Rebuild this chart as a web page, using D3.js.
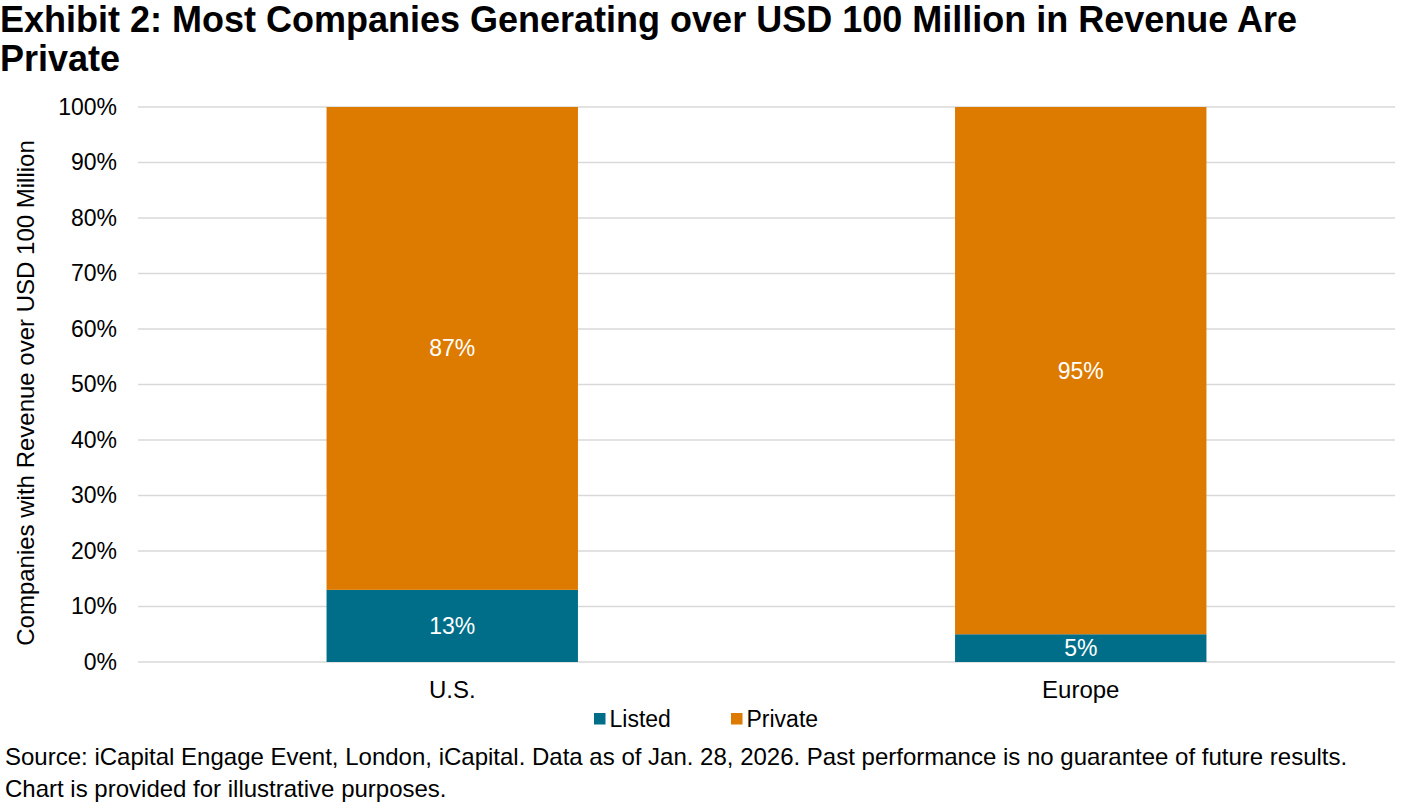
<!DOCTYPE html>
<html>
<head>
<meta charset="utf-8">
<script src="https://cdn.jsdelivr.net/npm/d3@7"></script>
<style>
  body { margin: 0; background: #fff; }
  text { font-family: "Liberation Sans", Arial, sans-serif; }
</style>
</head>
<body>
<div id="chart"></div>
<script>
// Chart data
var regions = ["U.S.", "Europe"];
var listed = [13, 5];
var privateShare = [87, 95];
var seriesNames = ["Listed", "Private"];
var seriesColors = ["#006e89", "#dd7a00"];
var yTicks = [0, 10, 20, 30, 40, 50, 60, 70, 80, 90, 100];

var W = 1402, H = 810;
var margin = { top: 107, right: 7, bottom: 148, left: 138 };
var width = W - margin.left - margin.right;
var height = H - margin.top - margin.bottom;

var svg = d3.select("#chart").append("svg")
    .attr("width", W)
    .attr("height", H);

// Title
svg.append("text").attr("x", 0).attr("y", 32)
    .attr("font-size", 36).attr("font-weight", "bold").attr("fill", "#000")
    .text("Exhibit 2: Most Companies Generating over USD 100 Million in Revenue Are");
svg.append("text").attr("x", 0).attr("y", 71)
    .attr("font-size", 36).attr("font-weight", "bold").attr("fill", "#000")
    .text("Private");

var g = svg.append("g")
    .attr("transform", "translate(" + margin.left + "," + margin.top + ")");

var x = d3.scaleBand().domain(regions).range([0, width]).paddingInner(0.6).paddingOuter(0.3);
var y = d3.scaleLinear().domain([0, 100]).range([height, 0]);

// Grid lines
g.selectAll(".grid").data(yTicks).enter().append("line")
    .attr("x1", 0).attr("x2", width)
    .attr("y1", function (d) { return y(d); })
    .attr("y2", function (d) { return y(d); })
    .attr("stroke", "#d9d9d9").attr("stroke-width", 1.5);

// Y axis
var yAxis = g.append("g")
    .call(d3.axisLeft(y).tickValues(yTicks).tickSize(0).tickPadding(21)
        .tickFormat(function (d) { return d + "%"; }));
yAxis.select(".domain").remove();
yAxis.selectAll("text").attr("font-size", 23).attr("fill", "#000")
    .attr("font-family", "Liberation Sans, Arial, sans-serif");

// X axis
var xAxis = g.append("g")
    .attr("transform", "translate(0," + height + ")")
    .call(d3.axisBottom(x).tickSize(0).tickPadding(19));
xAxis.select(".domain").remove();
xAxis.selectAll("text").attr("font-size", 24).attr("fill", "#000")
    .attr("font-family", "Liberation Sans, Arial, sans-serif");

// Stacked bars
var rows = regions.map(function (r, i) {
    return { region: r, Listed: listed[i], Private: privateShare[i] };
});
var stack = d3.stack().keys(seriesNames)(rows);

var layers = g.selectAll(".layer").data(stack).enter().append("g")
    .attr("fill", function (d, i) { return seriesColors[i]; });

layers.selectAll("rect").data(function (d) { return d; }).enter().append("rect")
    .attr("x", function (d) { return x(d.data.region); })
    .attr("width", x.bandwidth())
    .attr("y", function (d) { return y(d[1]); })
    .attr("height", function (d) { return y(d[0]) - y(d[1]); });

layers.selectAll(".lbl").data(function (d) { return d; }).enter().append("text")
    .attr("x", function (d) { return x(d.data.region) + x.bandwidth() / 2; })
    .attr("y", function (d) { return y((d[0] + d[1]) / 2); })
    .attr("dy", "0.35em")
    .attr("text-anchor", "middle")
    .attr("font-size", 23).attr("fill", "#fff")
    .text(function (d) { return (d[1] - d[0]) + "%"; });

// Y axis title
svg.append("text")
    .attr("transform", "translate(34,393) rotate(-90)")
    .attr("text-anchor", "middle").attr("font-size", 24).attr("fill", "#000")
    .text("Companies with Revenue over USD 100 Million");

// Legend
var legendX = [594, 731];
var legend = svg.selectAll(".legend").data(seriesNames).enter().append("g")
    .attr("transform", function (d, i) { return "translate(" + legendX[i] + ",713)"; });
legend.append("rect").attr("width", 11.5).attr("height", 11.5)
    .attr("fill", function (d, i) { return seriesColors[i]; });
legend.append("text").attr("x", 15.5).attr("y", 13.5)
    .attr("font-size", 23).attr("fill", "#000")
    .text(function (d) { return d; });

// Source
svg.append("text").attr("x", 5).attr("y", 765).attr("font-size", 24).attr("fill", "#000")
    .text("Source: iCapital Engage Event, London, iCapital. Data as of Jan. 28, 2026. Past performance is no guarantee of future results.");
svg.append("text").attr("x", 5).attr("y", 797).attr("font-size", 24).attr("fill", "#000")
    .text("Chart is provided for illustrative purposes.");
</script>
</body>
</html>
